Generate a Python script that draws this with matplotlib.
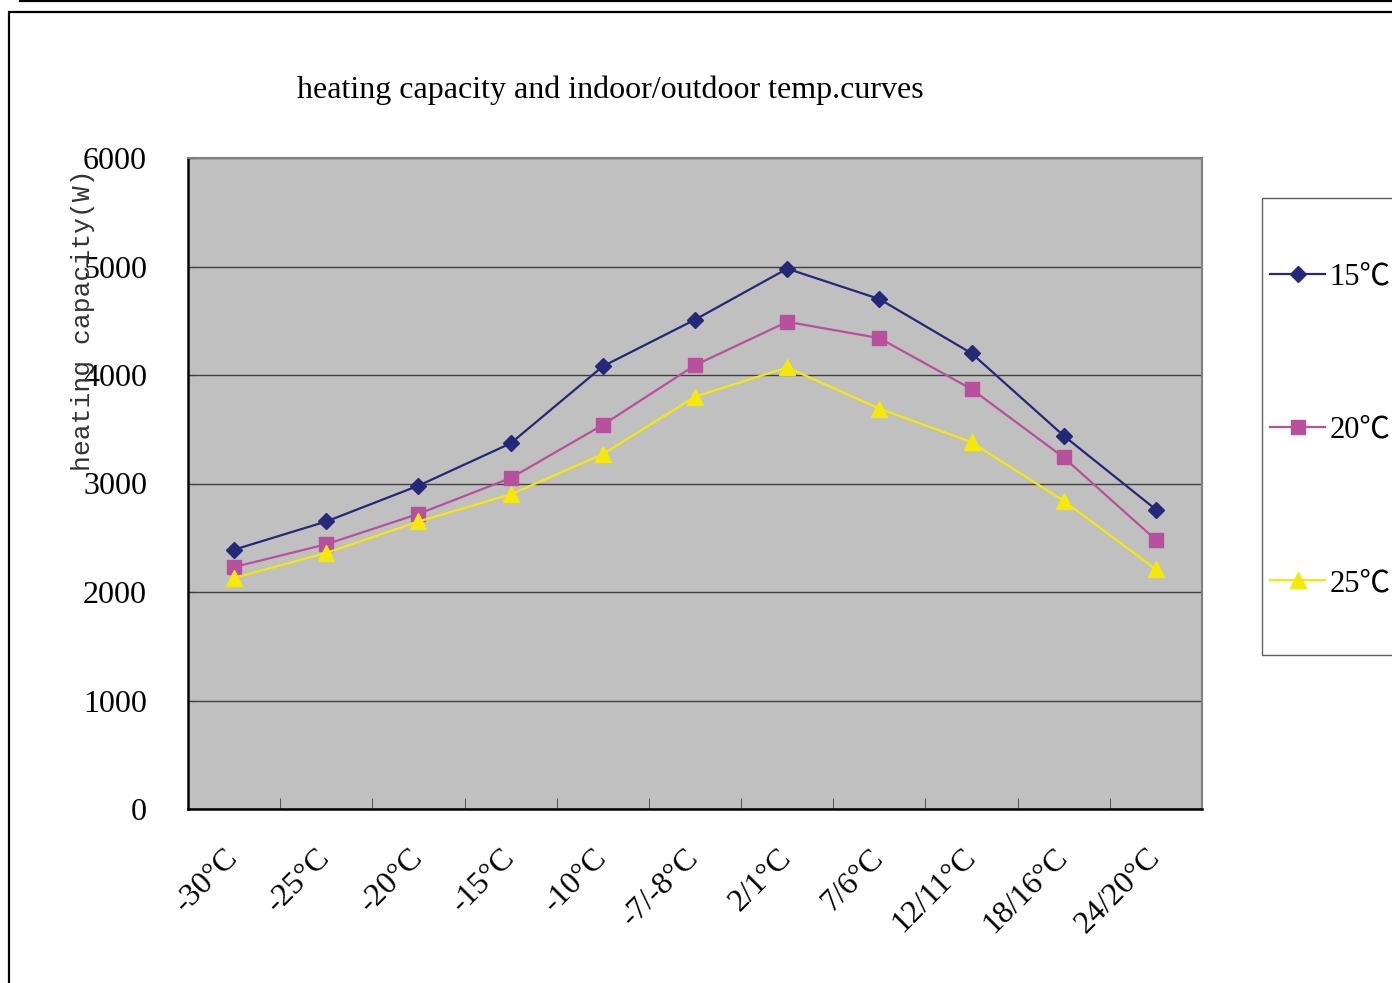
import matplotlib
matplotlib.use("Agg")
import matplotlib.pyplot as plt
from matplotlib.lines import Line2D
from matplotlib.patches import Rectangle

categories = ["-30°C", "-25°C", "-20°C", "-15°C", "-10°C", "-7/-8°C",
              "2/1°C", "7/6°C", "12/11°C", "18/16°C", "24/20°C"]
cap_15 = [2390, 2650, 2980, 3370, 4080, 4510, 4980, 4700, 4200, 3440, 2760]
cap_20 = [2230, 2440, 2720, 3050, 3540, 4090, 4490, 4340, 3870, 3240, 2480]
cap_25 = [2130, 2360, 2650, 2900, 3270, 3800, 4070, 3690, 3380, 2840, 2210]
labels = ["15℃", "20℃", "25℃"]
yticks = [0, 1000, 2000, 3000, 4000, 5000, 6000]

serif = ["Liberation Serif", "Noto Sans CJK SC", "DejaVu Sans"]

fig = plt.figure(figsize=(13.92, 9.83), dpi=100)
W, H = 1392, 983

# outer frame and top rule
fig.patches.append(Rectangle((9 / W, -0.1), 1.2, 1 - 12 / H + 0.1,
                             transform=fig.transFigure, fill=False,
                             edgecolor="black", linewidth=1.6))
fig.lines.append(Line2D([20 / W, 1.0], [1 - 1 / H, 1 - 1 / H],
                        transform=fig.transFigure, color="black", linewidth=1.6))

ax = fig.add_axes([188 / W, 1 - 809 / H, (1202 - 188) / W, (809 - 158) / H])
ax.set_facecolor("#C0C0C0")

x = list(range(len(categories)))
ax.plot(x, cap_15, color="#252878", marker="D", markersize=8, linewidth=1.6, label=labels[0])
ax.plot(x, cap_20, color="#B8509E", marker="s", markersize=10, linewidth=1.6, label=labels[1])
ax.plot(x, cap_25, color="#F5E80A", marker="^", markersize=11, linewidth=1.6, label=labels[2])

ax.set_xlim(-0.5, len(categories) - 0.5)
ax.set_ylim(0, 6000)
ax.set_yticks(yticks)
ax.set_yticklabels([str(v) for v in yticks], family=serif, fontsize=23)
ax.yaxis.grid(True, color="#404040", linewidth=1)
ax.set_axisbelow(True)
ax.tick_params(axis="y", direction="in", length=5, pad=29.5, color="#404040")

ax.set_xticks(x)
ax.set_xticklabels(categories, family=serif, fontsize=23, rotation=45,
                   ha="right", va="center", rotation_mode="anchor")
ax.tick_params(axis="x", length=0, pad=32)
ax.set_xticks([i + 0.5 for i in x[:-1]], minor=True)
ax.tick_params(axis="x", which="minor", direction="in", length=8, color="#404040")

for side in ["left", "bottom"]:
    ax.spines[side].set_color("black")
    ax.spines[side].set_linewidth(1.8)
for side in ["top", "right"]:
    ax.spines[side].set_color("#808080")
    ax.spines[side].set_linewidth(1.5)

fig.text(610 / W, 1 - 90 / H, "heating capacity and indoor/outdoor temp.curves",
         family=serif, fontsize=23, ha="center", va="center")
fig.text(83 / W, 1 - 320 / H, "heating capacity(W)",
         family=["Liberation Mono", "DejaVu Sans Mono"], fontsize=19,
         rotation=90, ha="center", va="center", color="#333333")

# legend box runs off the right edge, as in the original
fig.patches.append(Rectangle((1262 / W, 1 - 655 / H), 0.2, (655 - 198) / H,
                             transform=fig.transFigure, fill=False,
                             edgecolor="#606060", linewidth=1.0))
fig.legend(loc="upper left", bbox_to_anchor=(1258 / W, 1 - 250 / H),
           prop={"family": serif, "size": 22}, frameon=False,
           borderpad=0.4, labelspacing=4.07, handlelength=1.8,
           handletextpad=0.15, borderaxespad=0)

fig.savefig("out.png", dpi=100)
